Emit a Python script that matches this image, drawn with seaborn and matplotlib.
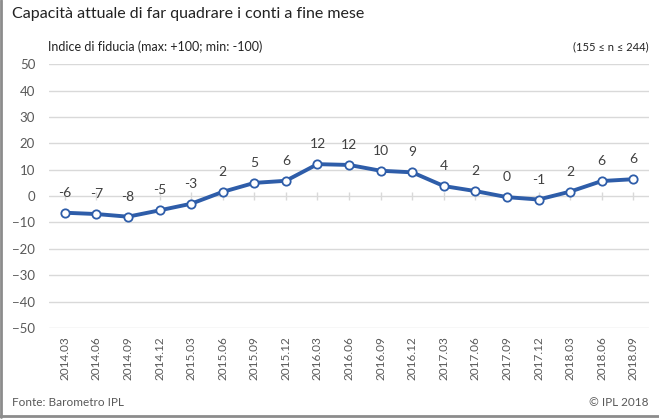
import numpy as np
import pandas as pd
import seaborn as sns
import matplotlib.pyplot as plt
from matplotlib.lines import Line2D

# Data
periods = ["2014.03", "2014.06", "2014.09", "2014.12",
           "2015.03", "2015.06", "2015.09", "2015.12",
           "2016.03", "2016.06", "2016.09", "2016.12",
           "2017.03", "2017.06", "2017.09", "2017.12",
           "2018.03", "2018.06", "2018.09"]
index_values = [-6.3, -6.8, -7.8, -5.4, -2.9, 1.6, 5.0, 5.8, 12.1, 11.8,
                9.6, 9.0, 3.8, 1.9, -0.4, -1.3, 1.7, 5.7, 6.4]
point_labels = [-6, -7, -8, -5, -3, 2, 5, 6, 12, 12,
                10, 9, 4, 2, 0, -1, 2, 6, 6]
y_ticks = [50, 40, 30, 20, 10, 0, -10, -20, -30, -40, -50]

df = pd.DataFrame({"period": periods, "value": index_values})
df["pos"] = np.arange(len(df))

sns.set_theme(style="white")
plt.rcParams["font.family"] = ["Lato", "DejaVu Sans"]

fig = plt.figure(figsize=(6.59, 4.19), dpi=100)
ax = fig.add_axes([0.0744, 0.217, 0.9106, 0.630])

blue = "#2E5DA9"
grid_col = "#D9D9D9"
txt_col = "#595959"

for t in y_ticks:
    ax.axhline(t, color=grid_col, lw=1, zorder=0)

# small category ticks on the zero line
ax.scatter(df["pos"], np.zeros(len(df)), marker="|", s=40, color=grid_col,
           linewidths=1, zorder=1)

sns.lineplot(data=df, x="pos", y="value", ax=ax, color=blue, lw=2.8,
             marker="o", markersize=6, markerfacecolor="white",
             markeredgecolor=blue, markeredgewidth=1.3, zorder=3)

for x, y, lab in zip(df["pos"], df["value"], point_labels):
    ax.annotate(str(lab), (x, y), xytext=(0, 10), textcoords="offset points",
                ha="center", va="bottom", fontsize=10, color="#404040")

ax.set_xlim(-0.5, len(df) - 0.5)
ax.set_ylim(-50, 50)
ax.set_yticks(y_ticks)
ax.set_xticks(df["pos"])
ax.set_xticklabels(periods, rotation=90, fontsize=8.5, color=txt_col)
ax.tick_params(axis="y", labelsize=9.5, labelcolor=txt_col, length=0, pad=10)
ax.tick_params(axis="x", length=0, pad=6)
ax.set_xlabel("")
ax.set_ylabel("")
for s in ax.spines.values():
    s.set_visible(False)

fig.text(0.018, 0.966, "Capacità attuale di far quadrare i conti a fine mese",
         fontsize=11.5, color="#222222", va="center")
fig.text(0.073, 0.888, "Indice di fiducia (max: +100; min: -100)",
         fontsize=9, color="#222222", va="center")
fig.text(0.985, 0.888, "(155 ≤ n ≤ 244)", fontsize=8, color="#222222",
         ha="right", va="center")
fig.text(0.018, 0.040, "Fonte: Barometro IPL", fontsize=8.5, color=txt_col,
         va="center")
fig.text(0.984, 0.040, "© IPL 2018", fontsize=8.5, color=txt_col,
         ha="right", va="center")

# frame lines on left and bottom
fig.add_artist(Line2D([0.002, 0.002], [0.004, 1], transform=fig.transFigure,
                      color="#8C8C8C", lw=2))
fig.add_artist(Line2D([0, 1], [0.006, 0.006], transform=fig.transFigure,
                      color="#8C8C8C", lw=2))

fig.savefig("out.png", dpi=100)
